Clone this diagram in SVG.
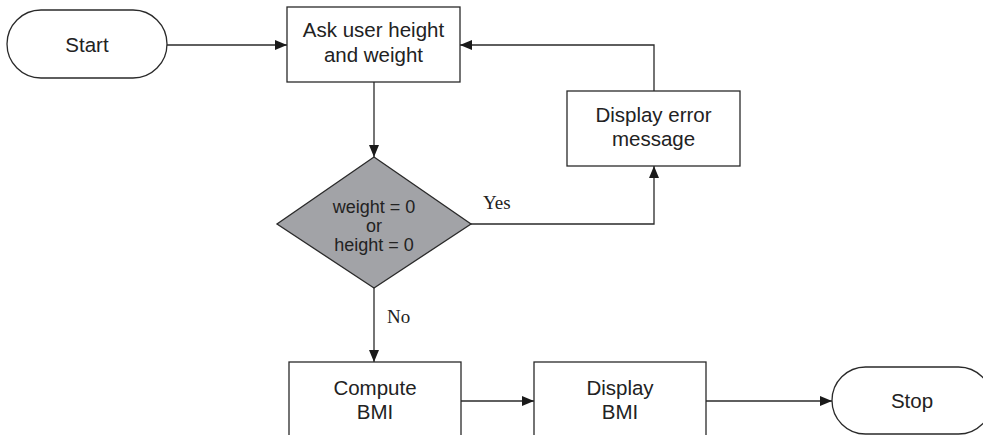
<svg xmlns="http://www.w3.org/2000/svg" width="983" height="435" viewBox="0 0 983 435">
<style>
.shape{fill:#fff;stroke:#2a2a2a;stroke-width:1.3}
.dec{fill:#a2a3a7;stroke:#2a2a2a;stroke-width:1.3}
.t{font-family:"Liberation Sans",Arial,sans-serif;font-size:20.5px;fill:#222;text-anchor:middle}
.ts{font-family:"Liberation Sans",Arial,sans-serif;font-size:18px;fill:#222;text-anchor:middle}
.lbl{font-family:"Liberation Serif","Times New Roman",serif;font-size:19px;fill:#222}
.c{fill:none;stroke:#2a2a2a;stroke-width:1.3}
</style>
<defs>
<marker id="ah" viewBox="0 0 12 10" refX="12" refY="5" markerWidth="12" markerHeight="10" markerUnits="userSpaceOnUse" orient="auto">
<path d="M0,0 L12,5 L0,10 Z" fill="#1a1a1a"/>
</marker>
</defs>
<g id="connectors">
<path class="c" d="M167,45 L287,45" marker-end="url(#ah)"/>
<path class="c" d="M374,82 L374,157" marker-end="url(#ah)"/>
<path class="c" d="M471,224 L654,224 L654,166" marker-end="url(#ah)"/>
<path class="c" d="M654,91 L654,45 L460,45" marker-end="url(#ah)"/>
<path class="c" d="M374,288 L374,362" marker-end="url(#ah)"/>
<path class="c" d="M461,401 L534,401" marker-end="url(#ah)"/>
<path class="c" d="M706,401 L832,401" marker-end="url(#ah)"/>
<text class="lbl" x="483" y="209">Yes</text>
<text class="lbl" x="387" y="323">No</text>
</g>
<g id="start">
<rect class="shape" x="7" y="10" width="160" height="68" rx="34" ry="34"/>
<text class="t" x="87" y="52">Start</text>
</g>
<g id="ask">
<rect class="shape" x="287" y="7" width="173" height="75"/>
<text class="t" x="373.5" y="37">Ask user height</text>
<text class="t" x="373.5" y="62">and weight</text>
</g>
<g id="error">
<rect class="shape" x="567" y="91" width="173" height="75"/>
<text class="t" x="653.5" y="122">Display error</text>
<text class="t" x="653.5" y="146">message</text>
</g>
<g id="decision">
<polygon class="dec" points="374,157 471,224 374,288 277,224"/>
<text class="ts" x="374" y="213">weight = 0</text>
<text class="ts" x="374" y="232">or</text>
<text class="ts" x="374" y="251">height = 0</text>
</g>
<g id="compute">
<rect class="shape" x="289" y="362" width="172" height="85"/>
<text class="t" x="375" y="395">Compute</text>
<text class="t" x="375" y="419">BMI</text>
</g>
<g id="display">
<rect class="shape" x="534" y="362" width="172" height="85"/>
<text class="t" x="620" y="395">Display</text>
<text class="t" x="620" y="419">BMI</text>
</g>
<g id="stop">
<rect class="shape" x="832" y="367" width="160" height="67" rx="33.5" ry="33.5"/>
<text class="t" x="912" y="408">Stop</text>
</g>
</svg>
